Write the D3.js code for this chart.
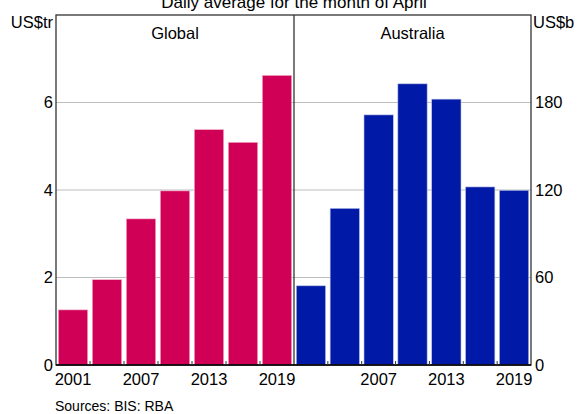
<!DOCTYPE html>
<html><head><meta charset="utf-8">
<script src="https://cdn.jsdelivr.net/npm/d3@7"></script>
<style>
body{margin:0;background:#fff;}
svg{display:block;font-family:"Liberation Sans",Arial,sans-serif;}
</style></head>
<body><svg id="c" width="581" height="414"></svg>
<script>
const years = ["2001","2004","2007","2010","2013","2016","2019"];
const globalValues = [1.26, 1.95, 3.34, 3.98, 5.38, 5.09, 6.62];
const australiaValues = [54.3, 107.4, 171.5, 192.8, 182.3, 122.1, 119.8];
const leftTicks = [0, 2, 4, 6];
const rightTicks = [0, 60, 120, 180];
const leftYearLabels = ["2001","2007","2013","2019"];
const rightYearLabels = ["2007","2013","2019"];
const title = "Daily average for the month of April";
const source = "Sources: BIS: RBA";

const svg = d3.select("#c");
const L = 56, M = 294, R = 531, T = 15, B = 365;
const pink = "#d10057", blue = "#0019a6", frame = "#333";

const yL = d3.scaleLinear().domain([0, 8]).range([B, T]);
const yR = d3.scaleLinear().domain([0, 240]).range([B, T]);
const xL = d3.scaleBand().domain(years).range([L, M]).paddingInner(0.135).paddingOuter(0.0675);
const xR = d3.scaleBand().domain(years).range([M, R]).paddingInner(0.135).paddingOuter(0.0675);

// gridlines
svg.append("g").selectAll("line").data(leftTicks.filter(d => d > 0)).join("line")
  .attr("x1", L).attr("x2", R).attr("y1", d => yL(d)).attr("y2", d => yL(d))
  .attr("stroke", "#bdbdbd").attr("stroke-width", 1);

// bars
svg.append("g").selectAll("rect").data(globalValues).join("rect")
  .attr("x", (d, i) => xL(years[i])).attr("width", xL.bandwidth())
  .attr("y", d => yL(d)).attr("height", d => B - yL(d))
  .attr("fill", pink).attr("stroke", "#f3b6cc").attr("stroke-width", 0.6);
svg.append("g").selectAll("rect").data(australiaValues).join("rect")
  .attr("x", (d, i) => xR(years[i])).attr("width", xR.bandwidth())
  .attr("y", d => yR(d)).attr("height", d => B - yR(d))
  .attr("fill", blue).attr("stroke", "#b8bfe6").attr("stroke-width", 0.6);

// frame
svg.append("rect").attr("x", L).attr("y", T).attr("width", R - L).attr("height", B - T)
  .attr("fill", "none").attr("stroke", frame).attr("stroke-width", 1.3);
svg.append("line").attr("x1", M).attr("x2", M).attr("y1", T).attr("y2", B)
  .attr("stroke", frame).attr("stroke-width", 1.3);
svg.append("line").attr("x1", L).attr("x2", R).attr("y1", B).attr("y2", B)
  .attr("stroke", "#000").attr("stroke-width", 1.5);

// x ticks at band boundaries
const boundsL = d3.range(1, 7).map(i => L + (M - L) * i / 7);
const boundsR = d3.range(1, 7).map(i => M + (R - M) * i / 7);
svg.append("g").selectAll("line").data(boundsL.concat(boundsR)).join("line")
  .attr("x1", d => d).attr("x2", d => d).attr("y1", B).attr("y2", B - 4)
  .attr("stroke", "#333").attr("stroke-width", 1);

// axis labels
const fs = 16.5;
svg.append("g").selectAll("text").data(leftTicks).join("text")
  .attr("x", L - 3).attr("y", d => yL(d)).attr("dy", "0.35em")
  .attr("text-anchor", "end").attr("font-size", fs).text(d => d);
svg.append("g").selectAll("text").data(rightTicks).join("text")
  .attr("x", R + 4).attr("y", d => yR(d)).attr("dy", "0.35em")
  .attr("text-anchor", "start").attr("font-size", fs).text(d => d);

svg.append("g").selectAll("text").data(leftYearLabels).join("text")
  .attr("x", d => xL(d) + xL.bandwidth()/2).attr("y", 385)
  .attr("text-anchor", "middle").attr("font-size", fs).text(d => d);
svg.append("g").selectAll("text").data(rightYearLabels).join("text")
  .attr("x", d => xR(d) + xR.bandwidth()/2).attr("y", 385)
  .attr("text-anchor", "middle").attr("font-size", fs).text(d => d);

svg.append("text").attr("x", L - 3).attr("y", 28).attr("text-anchor", "end")
  .attr("font-size", fs).text("US$tr");
svg.append("text").attr("x", R + 2).attr("y", 28).attr("text-anchor", "start")
  .attr("font-size", fs).text("US$b");

svg.append("text").attr("x", (L + M)/2).attr("y", 39).attr("text-anchor", "middle")
  .attr("font-size", fs).text("Global");
svg.append("text").attr("x", (M + R)/2).attr("y", 39).attr("text-anchor", "middle")
  .attr("font-size", fs).text("Australia");

svg.append("text").attr("x", M).attr("y", 8).attr("text-anchor", "middle")
  .attr("font-size", 17).text(title);
svg.append("text").attr("x", 55).attr("y", 411).attr("text-anchor", "start")
  .attr("font-size", 14).text(source);
</script></body></html>
